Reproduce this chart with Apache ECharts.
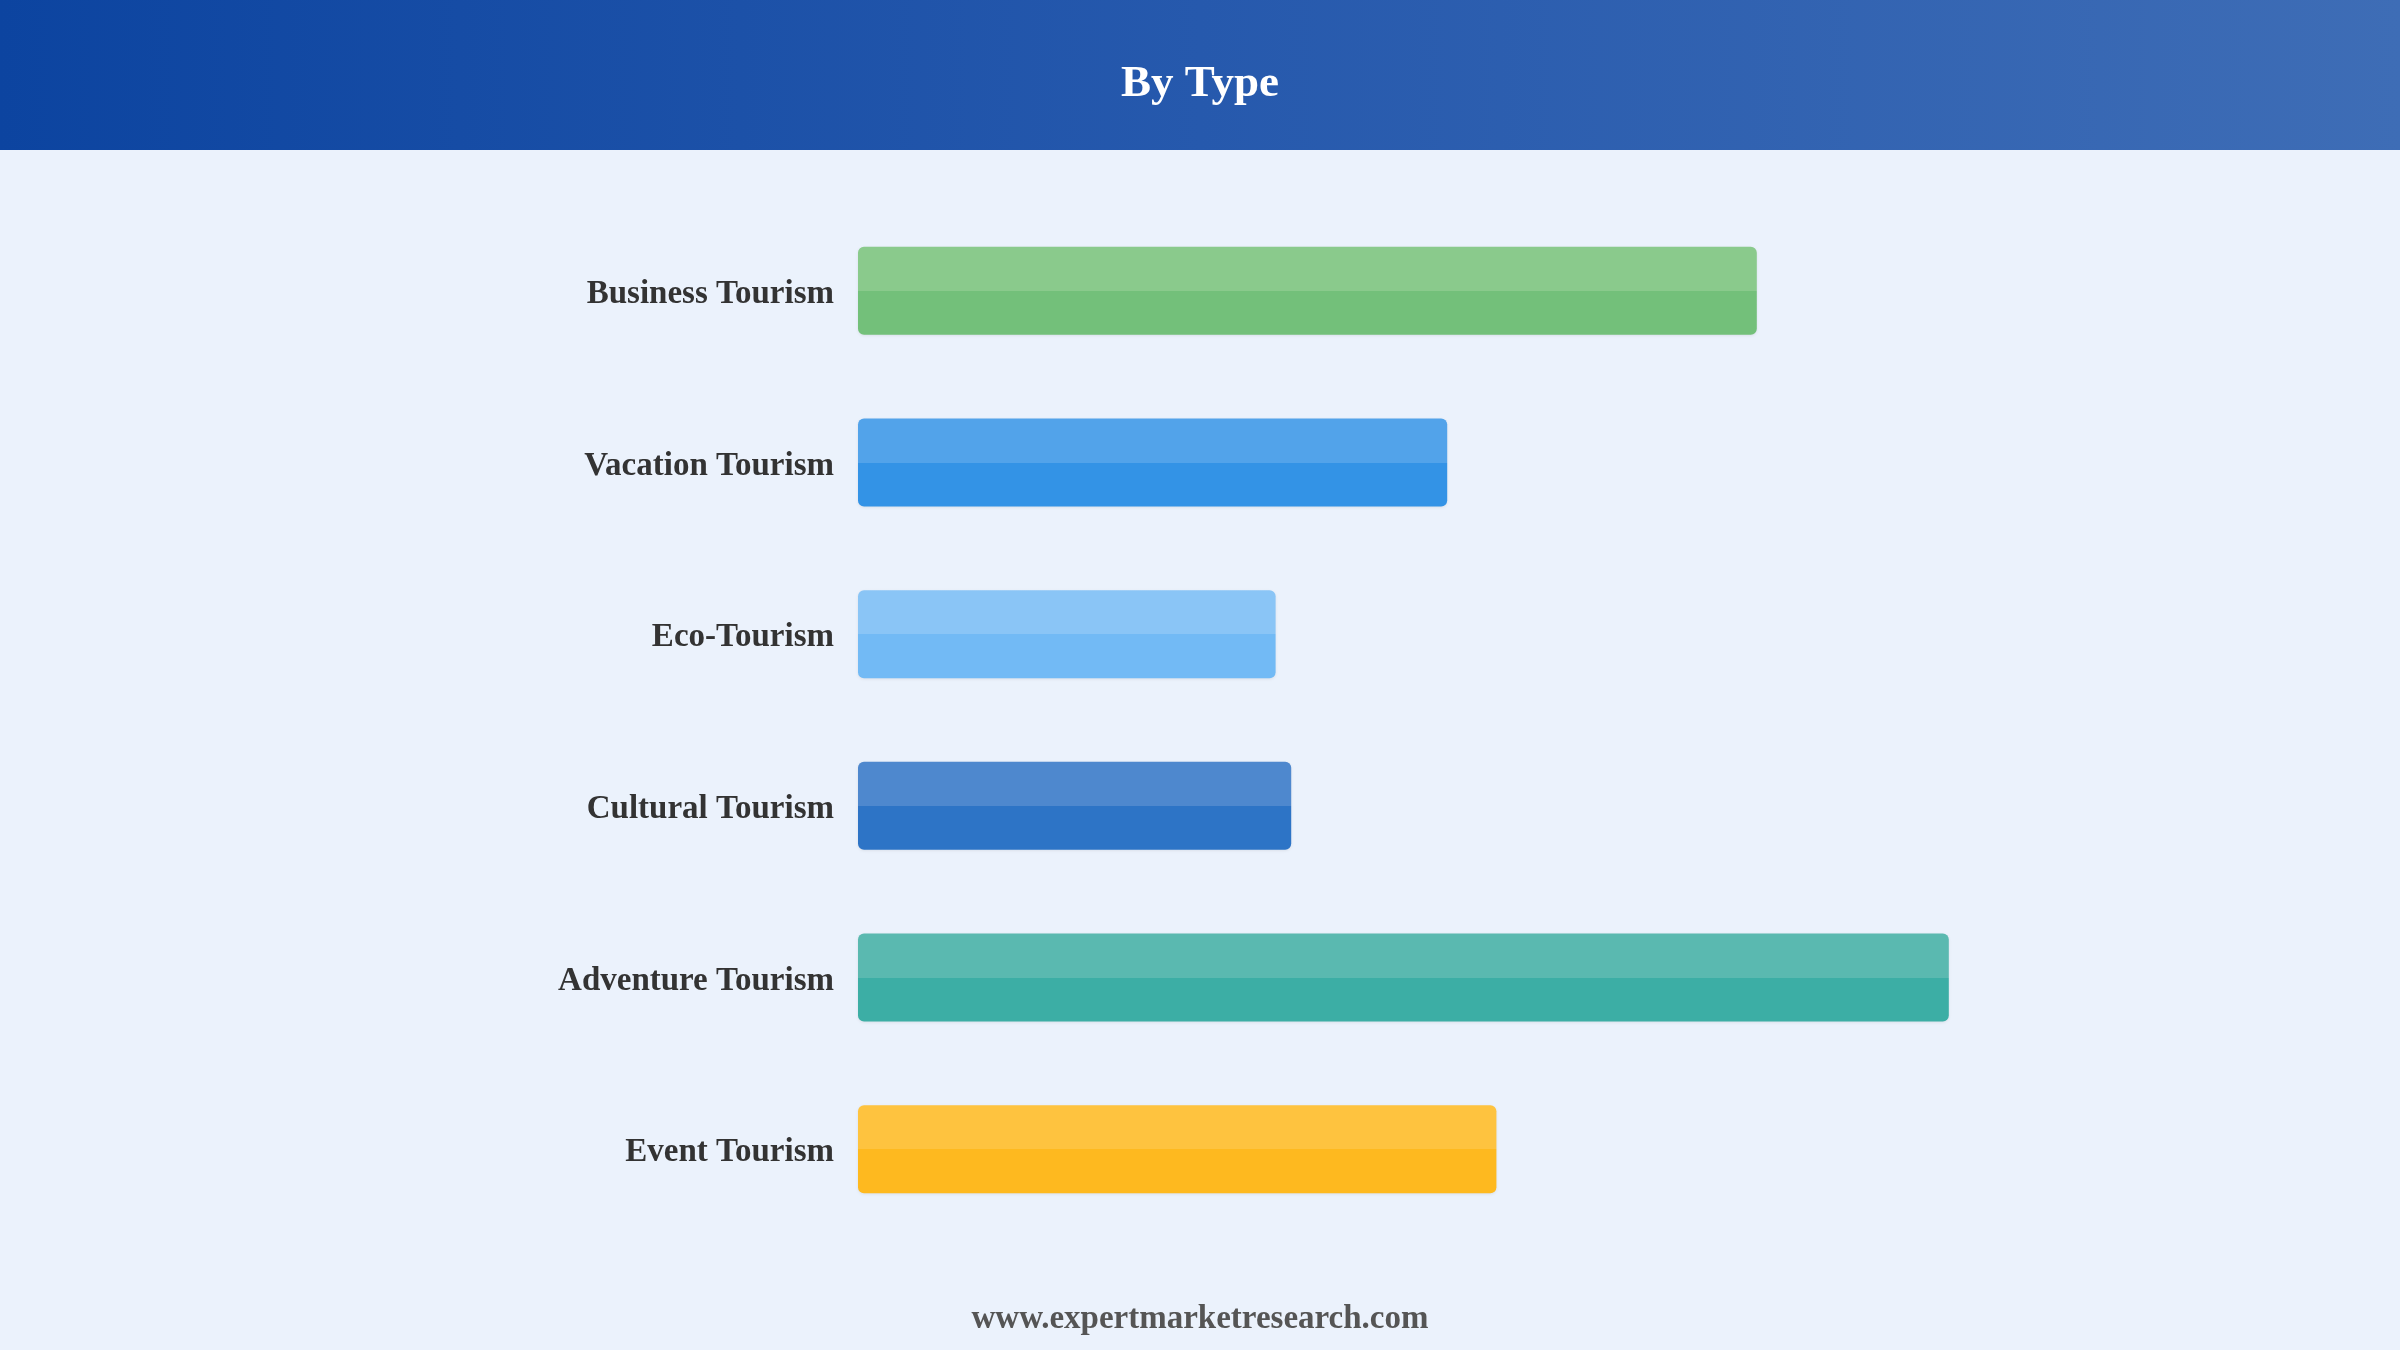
<!DOCTYPE html>
<html>
<head>
    <meta charset="UTF-8">
    <title>By Type</title>
</head>
<body style="margin: 0;overflow: hidden;background: #ebf2fc;width: 100%;height: 100%;position: absolute;top: 0;">
<div id="chart" style="width: 2400px;height: 1350px;"></div>

<script type="text/javascript" src="https://cdn.jsdelivr.net/npm/echarts@6/dist/echarts.min.js"></script>
<script>
    var categories = ['Business Tourism', 'Vacation Tourism', 'Eco-Tourism', 'Cultural Tourism', 'Adventure Tourism', 'Event Tourism'];
    var values = [74.9, 49.1, 34.8, 36.1, 90.9, 53.2];

    // upper (lighter) and lower half of each bar
    var topColors = ['#8aca8c', '#52a3ea', '#8ac5f6', '#4e88ce', '#5ab9b0', '#fec33f'];
    var bottomColors = ['#73c07a', '#3393e6', '#72baf5', '#2d74c6', '#3caea5', '#feb91f'];

    var serif = "'Liberation Serif', 'Times New Roman', serif";

    var barData = values.map(function (v, i) {
        return {
            value: v,
            itemStyle: {
                color: new echarts.graphic.LinearGradient(0, 0, 0, 1, [
                    {offset: 0, color: topColors[i]},
                    {offset: 0.5, color: topColors[i]},
                    {offset: 0.5, color: bottomColors[i]},
                    {offset: 1, color: bottomColors[i]}
                ])
            }
        };
    });

    var chart = echarts.init(document.getElementById('chart'));
    var option = {
        backgroundColor: '#ebf2fc',
        animation: false,
        graphic: [
            {
                type: 'rect',
                shape: {x: 0, y: 0, width: 2400, height: 150},
                style: {
                    fill: new echarts.graphic.LinearGradient(0, 0, 1, 0, [
                        {offset: 0, color: '#0c44a0'},
                        {offset: 0.5, color: '#2659ad'},
                        {offset: 1, color: '#3e6db6'}
                    ])
                },
                z: 0
            },
            {
                type: 'text',
                x: 1200,
                y: 84,
                style: {
                    text: 'By Type',
                    fill: '#ffffff',
                    font: 'bold 45px ' + serif,
                    textAlign: 'center',
                    textVerticalAlign: 'middle'
                },
                z: 1
            },
            {
                type: 'text',
                x: 1200,
                y: 1319,
                style: {
                    text: 'www.expertmarketresearch.com',
                    fill: '#555555',
                    font: 'bold 33px ' + serif,
                    textAlign: 'center',
                    textVerticalAlign: 'middle'
                },
                z: 1
            }
        ],
        grid: {
            left: 858,
            right: 342,
            top: 205,
            bottom: 115
        },
        xAxis: {
            type: 'value',
            min: 0,
            max: 100,
            show: false
        },
        yAxis: {
            type: 'category',
            inverse: true,
            data: categories,
            axisLine: {show: false},
            axisTick: {show: false},
            splitLine: {show: false},
            axisLabel: {
                margin: 24,
                formatter: '{t|{value}}',
                rich: {
                    t: {
                        color: '#333333',
                        fontSize: 33,
                        fontWeight: 'bold',
                        fontFamily: serif,
                        padding: [7, 0, 0, 0]
                    }
                }
            }
        },
        series: [
            {
                type: 'bar',
                barWidth: 88,
                data: barData,
                itemStyle: {
                    borderRadius: 6,
                    shadowColor: 'rgba(0, 0, 0, 0.08)',
                    shadowBlur: 3,
                    shadowOffsetY: 1
                }
            }
        ]
    };
    chart.setOption(option);
</script>
</body>
</html>
